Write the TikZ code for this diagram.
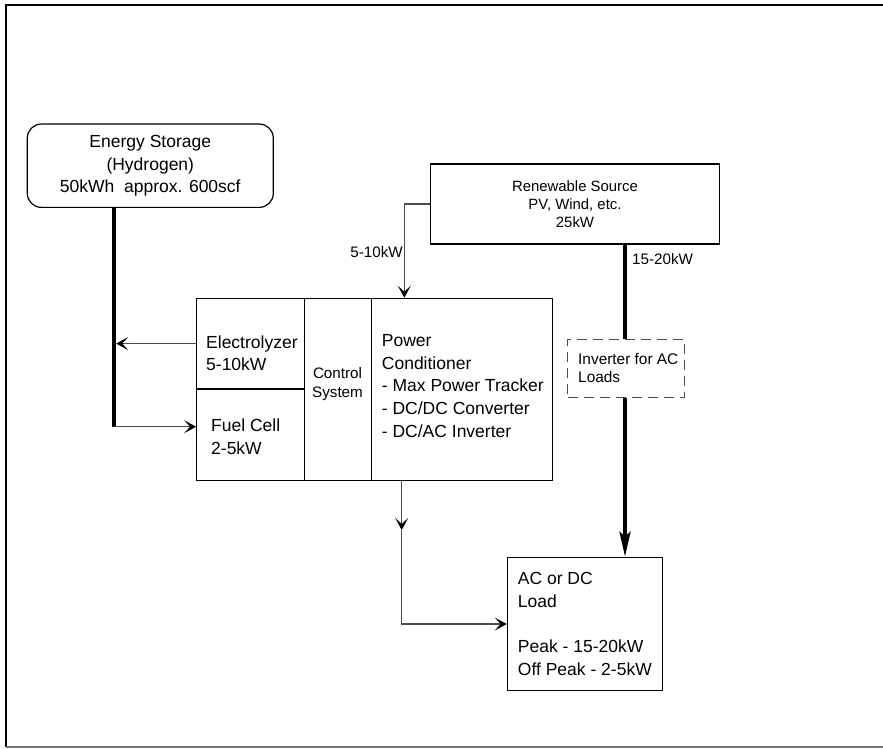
\documentclass[tikz,border=0pt]{standalone}
\usepackage{fontspec}
\setmainfont{Liberation Sans}
\usetikzlibrary{arrows.meta}
\newcommand\bigfnt{\fontsize{17.5}{22.7}\selectfont}
\newcommand\smallfnt{\fontsize{15.2}{18.8}\selectfont}
\definecolor{conn}{gray}{0.3}
\tikzset{
  box/.style={draw=black, line width=1.2pt, inner sep=0pt, fill=white},
  txt/.style={inner sep=0pt, align=left, font=\bigfnt},
  stxt/.style={inner sep=0pt, align=center, font=\smallfnt},
  thin/.style={draw=conn, line width=1.1pt},
  tip/.style={-{Stealth[length=12pt,width=13pt,inset=6pt,black]}},
  bus/.style={draw=black, line width=4pt},
}
\begin{document}
\begin{tikzpicture}[x=1pt,y=-1pt]
\useasboundingbox (0,0) rectangle (883,748);
% outer frame
\draw[line width=2pt, black] (883,5.3) -- (6,5.3) -- (6,747);
\draw[line width=1.4pt, black!55] (6,747) -- (883,747);

% nodes
\node[box, rounded corners=14pt, minimum width=246pt, minimum height=83.3pt,
      align=center, font=\bigfnt] (storage) at (150.3,165.7)
  {Energy Storage\\(Hydrogen)\\50kWh~ approx. 600scf};
\node[box, minimum width=288.3pt, minimum height=80pt, align=center,
      font=\fontsize{14.9}{18}\selectfont] (ren) at (575,204)
  {Renewable Source\\PV, Wind, etc.\\25kW};
\node[box, minimum width=107.6pt, minimum height=90.7pt] (elec) at (250.5,343.6) {};
\node[box, minimum width=107.6pt, minimum height=91.3pt] (fuel) at (250.5,434.7) {};
\node[box, minimum width=67.4pt, minimum height=182pt] (ctrl) at (338,389.3) {};
\node[box, minimum width=181pt, minimum height=182pt] (pc) at (462.2,389.3) {};
\node[box, minimum width=155.4pt, minimum height=133.4pt] (load) at (585,624) {};

\node[txt, anchor=west] (electxt) at (206,353.3) {Electrolyzer\\5-10kW};
\node[txt, anchor=west] (fueltxt) at (211,436.8) {Fuel Cell\\2-5kW};
\node[stxt] (ctrltxt) at (337.5,384) {Control\\System};
\node[txt, anchor=west] (pctxt) at (381.7,386)
  {Power\\Conditioner\\- Max Power Tracker\\- DC/DC Converter\\- DC/AC Inverter};
\node[txt, anchor=west] (loadtxt) at (517.7,623.8)
  {AC or DC\\Load\\\mbox{}\\Peak - 15-20kW\\Off Peak - 2-5kW};

% coordinates
\coordinate (busx) at (114,0);
\coordinate (busedge) at (116.2,0);
\coordinate (busbot) at (114,426.7);
\coordinate (feedx) at (404.3,0);
\coordinate (thickx) at (625,0);
\coordinate (pcx) at (401.7,0);
\coordinate (mid) at (401.7,530);
\coordinate (turn) at (401.7,624);

% bus
\draw[bus] (storage.south -| busx) -- (busbot);
\draw[thin, tip] (elec.west) -- (elec.west -| busedge);
\draw[thin, tip] (busbot) -- (busbot -| fuel.west);

% renewable feed
\draw[thin, tip] (ren.west) -- (ren.west -| feedx) -- (feedx |- pc.north);
\node[inner sep=0pt, font=\smallfnt, anchor=east] (lblfeed) at (403,252.5) {5-10kW};

% thick line to load
\draw[bus, -{Stealth[length=25pt,width=11pt,inset=5pt]}]
  (ren.south -| thickx) -- (load.north -| thickx);
\node[inner sep=0pt, font=\smallfnt, anchor=west] (lblthick) at (632,259) {15-20kW};

% inverter dashed box (covers the thick line)
\node[draw=conn, line width=1.1pt, dash pattern=on 10pt off 6pt, fill=white,
      minimum width=116.6pt, minimum height=58.4pt, inner sep=0pt] (inv) at (626,368.5) {};
\node[inner sep=0pt, align=left, font=\fontsize{15.4}{18.5}\selectfont, anchor=west]
  (invtxt) at (578,368) {Inverter for AC\\Loads};

% power conditioner to load
\draw[thin, tip] (pcx |- pc.south) -- (mid);
\draw[thin, tip] (mid) -- (turn) -- (load.west);
\end{tikzpicture}
\end{document}
